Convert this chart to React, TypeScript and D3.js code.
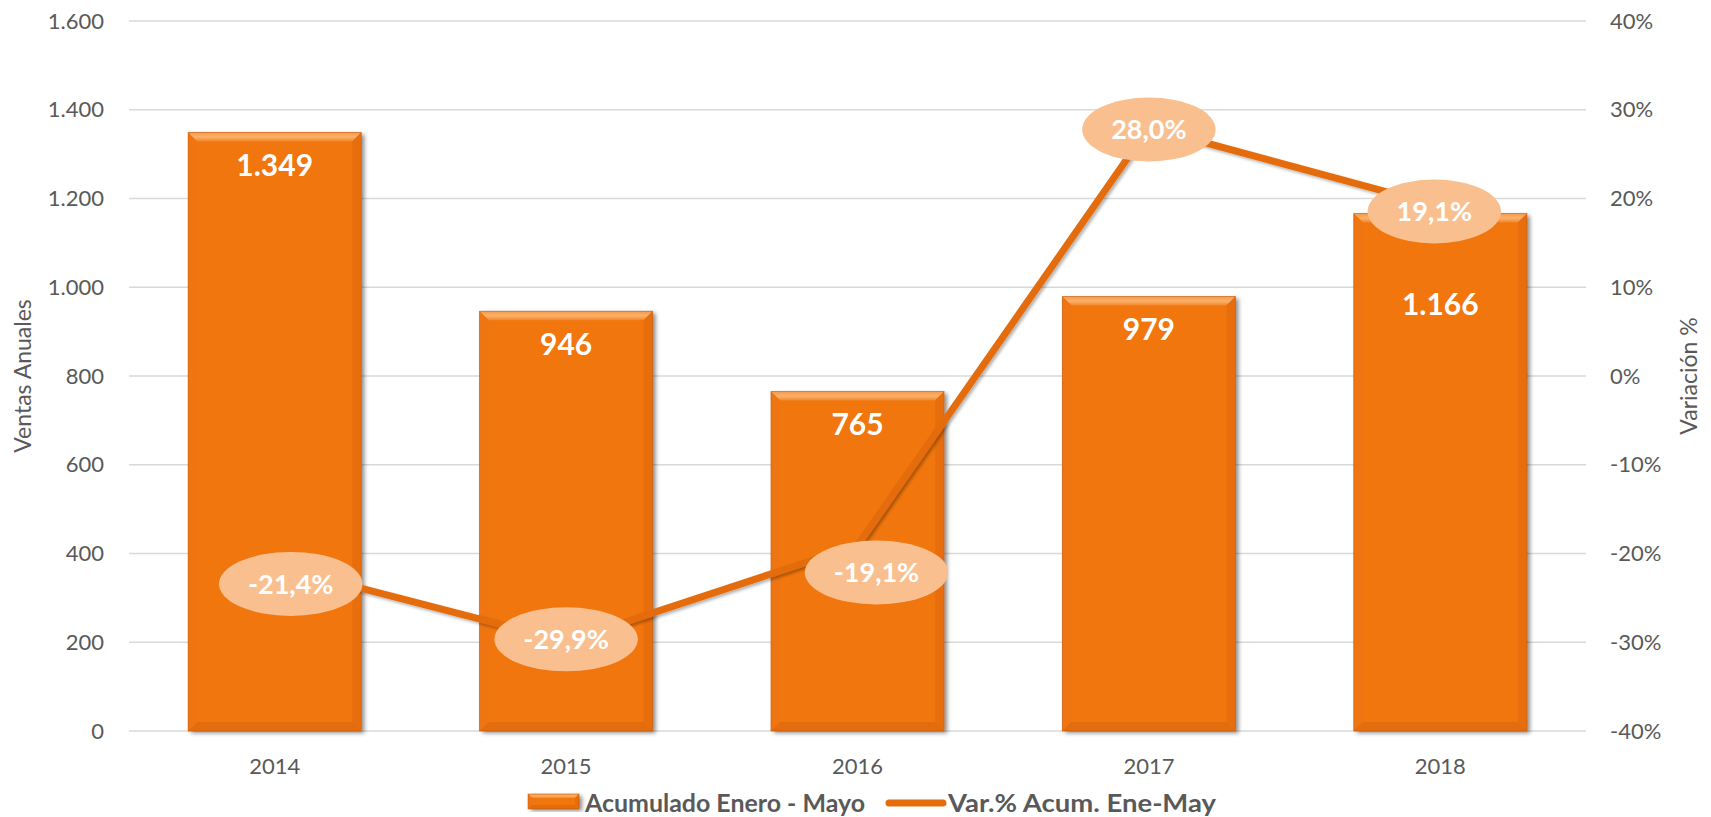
import { useEffect, useRef } from 'react';
import * as d3 from 'd3';

const years = ['2014', '2015', '2016', '2017', '2018'];
const ventas = [1349, 946, 765, 979, 1166];
const variacion = [-0.214, -0.299, -0.191, 0.28, 0.191];
const leftTicks = [0, 200, 400, 600, 800, 1000, 1200, 1400, 1600];
const rightTicks = [-0.4, -0.3, -0.2, -0.1, 0, 0.1, 0.2, 0.3, 0.4];
// desplazamiento de las etiquetas de % respecto al punto (como en Excel)
const labelShift = [[16, 18], [0, -2], [19, 27], [0, 2], [-6, 5]];
// distancia de la etiqueta de la barra desde su borde superior
const barLabelDrop = [33, 33, 33, 33, 91];

const FONT = "Lato, 'Open Sans', sans-serif";
const GREY = '#595959';
const BAR = '#F1760F';
const LINE = '#E46C0A';

const loc = d3.formatLocale({
  decimal: ',',
  thousands: '.',
  grouping: [3],
  currency: ['', '€'],
  minus: '-',
});

export default function App() {
  const svgRef = useRef<SVGSVGElement>(null);

  useEffect(() => {
    if (!svgRef.current) return;
    const svg = d3.select(svgRef.current);
    svg.selectAll('*').remove();

    const width = 1711;
    const height = 817;
    const left = 129, right = 1586, top = 21, bottom = 731;

    svg.attr('width', width).attr('height', height);

    const defs = svg.append('defs');
    const sh = defs.append('filter').attr('id', 'barShadow')
      .attr('x', '-10%').attr('y', '-10%').attr('width', '130%').attr('height', '130%');
    sh.append('feDropShadow').attr('dx', 3).attr('dy', 2).attr('stdDeviation', 2)
      .attr('flood-color', '#000').attr('flood-opacity', 0.45);
    const lsh = defs.append('filter').attr('id', 'lineShadow')
      .attr('x', '-10%').attr('y', '-10%').attr('width', '130%').attr('height', '130%');
    lsh.append('feDropShadow').attr('dx', 2).attr('dy', 2).attr('stdDeviation', 1.5)
      .attr('flood-color', '#000').attr('flood-opacity', 0.3);

    const topGrad = defs.append('linearGradient').attr('id', 'topBevel')
      .attr('x1', 0).attr('y1', 0).attr('x2', 0).attr('y2', 1);
    topGrad.append('stop').attr('offset', '0%').attr('stop-color', '#F59A4A');
    topGrad.append('stop').attr('offset', '50%').attr('stop-color', '#FAB16B');
    topGrad.append('stop').attr('offset', '100%').attr('stop-color', '#F3862A');

    const x = d3.scaleBand().domain(years).range([left, right])
      .paddingInner(0.406).paddingOuter(0.203);
    const yL = d3.scaleLinear().domain([0, 1600]).range([bottom, top]);
    const yR = d3.scaleLinear().domain([-0.4, 0.4]).range([bottom, top]);

    // rejilla
    svg.append('g').selectAll('line').data(leftTicks).enter().append('line')
      .attr('x1', left).attr('x2', right)
      .attr('y1', d => yL(d)).attr('y2', d => yL(d))
      .attr('stroke', '#D9D9D9').attr('stroke-width', 1.5);

    // ejes (sólo etiquetas)
    const fmtL = loc.format(',d');
    svg.append('g').selectAll('text').data(leftTicks).enter().append('text')
      .attr('x', 104).attr('y', d => yL(d)).attr('dy', '0.35em')
      .attr('text-anchor', 'end').attr('fill', GREY)
      .attr('font-family', FONT).attr('font-size', 22)
      .text(d => fmtL(d));

    const fmtR = loc.format('.0%');
    svg.append('g').selectAll('text').data(rightTicks).enter().append('text')
      .attr('x', 1610).attr('y', d => yR(d)).attr('dy', '0.35em')
      .attr('text-anchor', 'start').attr('fill', GREY)
      .attr('font-family', FONT).attr('font-size', 22)
      .text(d => fmtR(d));

    svg.append('g').selectAll('text').data(years).enter().append('text')
      .attr('x', d => (x(d) || 0) + x.bandwidth() / 2).attr('y', 766).attr('dy', '0.35em')
      .attr('text-anchor', 'middle').attr('fill', GREY)
      .attr('font-family', FONT).attr('font-size', 22)
      .text(d => d);

    svg.append('text')
      .attr('transform', `translate(23,${(top + bottom) / 2}) rotate(-90)`)
      .attr('text-anchor', 'middle').attr('dy', '0.35em')
      .attr('fill', GREY).attr('font-family', FONT).attr('font-size', 23)
      .text('Ventas Anuales');

    svg.append('text')
      .attr('transform', `translate(1689,${(top + bottom) / 2}) rotate(-90)`)
      .attr('text-anchor', 'middle').attr('dy', '0.35em')
      .attr('fill', GREY).attr('font-family', FONT).attr('font-size', 23)
      .text('Variación %');

    // barra biselada
    const bevelBar = (g: d3.Selection<SVGGElement, unknown, null, undefined>,
      x0: number, y0: number, w: number, h: number, b: number) => {
      g.append('rect').attr('x', x0).attr('y', y0).attr('width', w).attr('height', h)
        .attr('fill', BAR).attr('filter', 'url(#barShadow)');
      g.append('polygon')
        .attr('points', `${x0},${y0} ${x0 + w},${y0} ${x0 + w - b},${y0 + b} ${x0 + b},${y0 + b}`)
        .attr('fill', 'url(#topBevel)');
      g.append('polygon')
        .attr('points', `${x0},${y0} ${x0 + b},${y0 + b} ${x0 + b},${y0 + h - b} ${x0},${y0 + h}`)
        .attr('fill', '#EF7513');
      g.append('polygon')
        .attr('points', `${x0 + w},${y0} ${x0 + w},${y0 + h} ${x0 + w - b},${y0 + h - b} ${x0 + w - b},${y0 + b}`)
        .attr('fill', '#E86E0D');
      g.append('polygon')
        .attr('points', `${x0},${y0 + h} ${x0 + w},${y0 + h} ${x0 + w - b},${y0 + h - b} ${x0 + b},${y0 + h - b}`)
        .attr('fill', '#E26C0E');
      g.append('rect').attr('x', x0).attr('y', y0).attr('width', w).attr('height', h)
        .attr('fill', 'none').attr('stroke', '#B8570C').attr('stroke-width', 0.8).attr('stroke-opacity', 0.6);
    };

    const bars = svg.append('g');
    ventas.forEach((v, i) => {
      const g = bars.append('g');
      bevelBar(g, x(years[i]) || 0, yL(v), x.bandwidth(), bottom - yL(v), 9);
    });

    // línea de variación
    const pts: [number, number][] = variacion.map((v, i) => [(x(years[i]) || 0) + x.bandwidth() / 2, yR(v)]);
    svg.append('path')
      .attr('d', d3.line()(pts) || '')
      .attr('fill', 'none').attr('stroke', LINE).attr('stroke-width', 7)
      .attr('stroke-linejoin', 'round').attr('filter', 'url(#lineShadow)');

    // etiquetas de las barras
    svg.append('g').selectAll('text').data(ventas).enter().append('text')
      .attr('x', (d, i) => (x(years[i]) || 0) + x.bandwidth() / 2)
      .attr('y', (d, i) => yL(d) + barLabelDrop[i]).attr('dy', '0.35em')
      .attr('text-anchor', 'middle').attr('fill', '#fff')
      .attr('font-family', FONT).attr('font-weight', 700).attr('font-size', 30)
      .text(d => fmtL(d));

    // etiquetas de % en elipses
    const fmtP = loc.format('.1%');
    variacion.forEach((v, i) => {
      const cx = pts[i][0] + labelShift[i][0];
      const cy = pts[i][1] + labelShift[i][1];
      const g = svg.append('g');
      const ell = g.append('ellipse').attr('cx', cx).attr('cy', cy).attr('ry', 32)
        .attr('fill', '#F9BF8F');
      const t = g.append('text').attr('x', cx).attr('y', cy).attr('dy', '0.36em')
        .attr('text-anchor', 'middle').attr('fill', '#fff')
        .attr('font-family', FONT).attr('font-weight', 700).attr('font-size', 27)
        .text(fmtP(v));
      const tw = (t.node() as SVGTextElement).getComputedTextLength();
      ell.attr('rx', tw / 2 + 29);
    });

    // leyenda
    const lg = svg.append('g');
    const sw = lg.append('g');
    bevelBar(sw, 528, 794, 51, 15, 4);
    lg.append('text').attr('x', 585).attr('y', 803).attr('dy', '0.35em')
      .attr('fill', GREY).attr('font-family', FONT).attr('font-weight', 700).attr('font-size', 25)
      .attr('textLength', 280).attr('lengthAdjust', 'spacingAndGlyphs')
      .text('Acumulado Enero - Mayo');
    lg.append('line').attr('x1', 889).attr('x2', 943).attr('y1', 803).attr('y2', 803)
      .attr('stroke', LINE).attr('stroke-width', 7).attr('stroke-linecap', 'round');
    lg.append('text').attr('x', 948).attr('y', 803).attr('dy', '0.35em')
      .attr('fill', GREY).attr('font-family', FONT).attr('font-weight', 700).attr('font-size', 25)
      .attr('textLength', 268).attr('lengthAdjust', 'spacingAndGlyphs')
      .text('Var.% Acum. Ene-May');
  }, []);

  return (
    <svg ref={svgRef} style={{ position: 'absolute', left: 0, top: 0, background: '#fff' }}></svg>
  );
}
